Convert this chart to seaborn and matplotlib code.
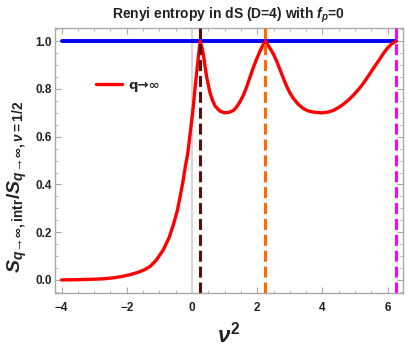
import matplotlib
matplotlib.use("Agg")
import matplotlib.pyplot as plt
import seaborn as sns
import pandas as pd
from matplotlib.ticker import MultipleLocator
from matplotlib.lines import Line2D

# ---- data ----
nu2 = [-4.0, -3.5, -3.0, -2.67, -2.4, -2.16, -1.9, -1.65, -1.45, -1.29, -1.1, -0.88,
       -0.7, -0.57, -0.45, -0.37, -0.28, -0.21, -0.13, -0.08, -0.03, 0.04, 0.09, 0.14,
       0.2, 0.25, 0.3, 0.35, 0.4, 0.45, 0.55, 0.63, 0.71, 0.86, 1.0, 1.13, 1.27, 1.37,
       1.47, 1.58, 1.68, 1.78, 1.88, 1.98, 2.09, 2.18, 2.25, 2.37, 2.49, 2.6, 2.70, 2.80,
       2.90, 3.0, 3.11, 3.25, 3.41, 3.56, 3.72, 3.86, 4.0, 4.17, 4.33, 4.48, 4.64, 4.8,
       4.95, 5.1, 5.25, 5.4, 5.56, 5.72, 5.87, 6.0, 6.1, 6.18, 6.25]
S_ratio = [0.0, 0.001, 0.003, 0.005, 0.009, 0.014, 0.022, 0.032, 0.043, 0.056, 0.082, 0.126,
           0.178, 0.232, 0.29, 0.345, 0.41, 0.47, 0.53, 0.586, 0.645, 0.725, 0.80, 0.865,
           0.94, 1.0, 0.975, 0.945, 0.895, 0.85, 0.785, 0.752, 0.728, 0.707, 0.70, 0.702, 0.71, 0.725,
           0.746, 0.775, 0.81, 0.85, 0.89, 0.925, 0.96, 0.985, 1.0, 0.975, 0.948, 0.915, 0.88, 0.845,
           0.812, 0.784, 0.76, 0.737, 0.718, 0.708, 0.703, 0.701, 0.70, 0.703, 0.71, 0.721, 0.736, 0.754,
           0.774, 0.797, 0.823, 0.853, 0.886, 0.918, 0.949, 0.972, 0.986, 0.994, 1.0]
ref_level = 1.0
x_span = [-4.0, 6.25]
vlines_x = [0.25, 2.25, 6.25]
vlines_colors = ["#5a0d0d", "#ff6a00", "#ff00ff"]
legend_label = "q→∞"

df = pd.DataFrame({"nu2": nu2, "S": S_ratio})
df_ref = pd.DataFrame({"nu2": x_span, "S": [ref_level, ref_level]})

sns.set_theme(style="ticks")
plt.rcParams["font.family"] = ["Liberation Sans", "DejaVu Sans"]
plt.rcParams["mathtext.fontset"] = "custom"
plt.rcParams["mathtext.it"] = "Liberation Sans:bold:italic"
plt.rcParams["mathtext.rm"] = "Liberation Sans:bold"
plt.rcParams["mathtext.bf"] = "Liberation Sans:bold"

fig = plt.figure(figsize=(4.09, 3.54), dpi=100)
ax = fig.add_axes([0.1345, 0.1715, 0.8501, 0.7485])

ax.axvline(0, color="#d8d8d8", lw=1.6, zorder=1)
sns.lineplot(data=df, x="nu2", y="S", ax=ax, color="#ff0000", lw=2.4, sort=False,
             estimator=None, zorder=3)
sns.lineplot(data=df_ref, x="nu2", y="S", ax=ax, color="#0000ff", lw=2.8,
             estimator=None, zorder=2)
for xv, c in zip(vlines_x, vlines_colors):
    ax.axvline(xv, color=c, lw=2.2, ls=(0, (3.6, 1.6)), zorder=4)

ax.set_xlim(-4.2, 6.46)
ax.set_ylim(-0.056, 1.054)
ax.xaxis.set_major_locator(MultipleLocator(2))
ax.xaxis.set_minor_locator(MultipleLocator(0.5))
ax.yaxis.set_major_locator(MultipleLocator(0.2))
ax.yaxis.set_minor_locator(MultipleLocator(0.05))
ax.xaxis.set_major_formatter(plt.FuncFormatter(lambda v, p: f"{v:.0f}".replace("-", "\u2212")))
ax.yaxis.set_major_formatter(plt.FuncFormatter(lambda v, p: f"{v:.1f}"))

for s in ax.spines.values():
    s.set_color("#a8a8a8")
    s.set_linewidth(1.0)
ax.tick_params(which="both", direction="in", top=True, right=True, color="#a8a8a8",
               labelsize=8.5, labelcolor="#222222")
ax.tick_params(which="major", length=4, width=0.8)
ax.tick_params(which="minor", length=2.2, width=0.6)
ax.tick_params(axis="x", which="major", pad=6)
ax.tick_params(axis="y", which="major", pad=2)
for lab in ax.get_xticklabels() + ax.get_yticklabels():
    lab.set_fontweight("bold")

ax.set_xlabel(r"$\nu^{2}$", fontsize=16, color="#222222", labelpad=6)
ax.set_ylabel(r"$S_{q\!\rightarrow\!\infty,\mathrm{intr}}/S_{q\!\rightarrow\!\infty,\nu=1/2}$",
              fontsize=14, color="#222222")
ax.yaxis.set_label_coords(-0.075, 0.40)
ax.set_title(r"Renyi entropy in dS (D=4) with $f_{p}$=0", fontsize=10,
             fontweight="bold", color="#222222", pad=7)

handles = [Line2D([0], [0], color="#ff0000", lw=2.4)]
leg = ax.legend(handles, [legend_label], loc="upper left", bbox_to_anchor=(0.085, 0.855),
                frameon=False, handlelength=1.9, handletextpad=0.55,
                prop={"weight": "bold", "size": 9.5, "family": ["DejaVu Sans"]})

ax.grid(False)
fig.savefig("out.png", dpi=100)
